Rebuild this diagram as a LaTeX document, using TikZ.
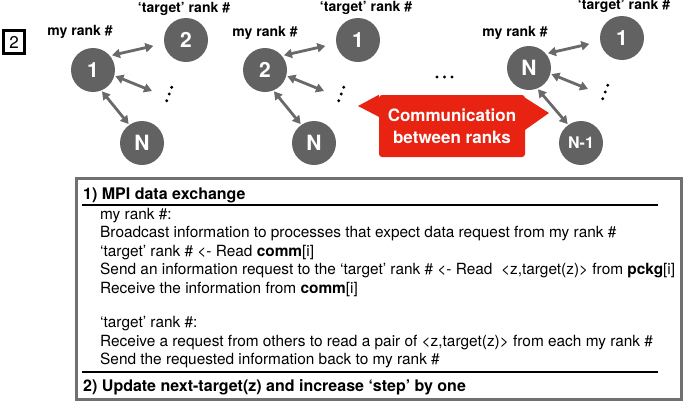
\documentclass[tikz,border=0pt]{standalone}
\usepackage{fontspec}
\setmainfont{TeX Gyre Heros}
\usetikzlibrary{arrows.meta}
\definecolor{nodegray}{RGB}{98,98,98}
\definecolor{arrgray}{RGB}{105,105,105}
\definecolor{boxgray}{RGB}{112,112,112}
\definecolor{callred}{RGB}{232,35,18}
\begin{document}
\begin{tikzpicture}[x=1pt,y=-1pt,
  rank/.style={circle, fill=nodegray, minimum size=44pt, inner sep=0pt, text=white, font=\fontsize{21}{21}\selectfont\bfseries},
  lbl/.style={font=\fontsize{14}{14}\selectfont\bfseries, inner sep=0pt},
  arr/.style={draw=arrgray, line width=2.8pt, {Triangle[length=8pt,width=9pt]}-{Triangle[length=8pt,width=9pt]}},
  dotmark/.style={circle, fill=black, minimum size=3.3pt, inner sep=0pt},
  body/.style={anchor=base west, inner sep=0pt, font=\fontsize{15.4}{17}\selectfont},
  head/.style={anchor=base west, inner sep=0pt, font=\fontsize{16}{17}\selectfont\bfseries},
  rulestyle/.style={line width=1.6pt, black}
]
\useasboundingbox (0,0) rectangle (685,402);

% stage marker
\node[draw, line width=3.5pt, minimum width=21pt, minimum height=23pt, inner sep=0pt, font=\fontsize{17}{17}\selectfont] (stage) at (14,42) {2};

% graph 1
\node[rank] (a1) at (93,70) {1};
\node[rank] (a2) at (186,40) {2};
\node[rank] (aN) at (142,143) {N};
\node[dotmark] (ad1) at (171.7,87.3) {};
\node[dotmark] (ad2) at (169.2,94) {};
\node[dotmark] (ad3) at (166.7,100.7) {};
\coordinate (ae) at (152,91);
\draw[arr, shorten <=2pt, shorten >=11pt] (a1.40) -- (a2.189);
\draw[arr, shorten <=1pt] (a1.-15) -- (ae);
\draw[arr, shorten <=1pt, shorten >=1pt] (a1.-68) -- (aN.125);
\node[lbl] (amy) at (80,32) {my rank \#};
\node[lbl] (atg) at (184,9) {`target' rank \#};

% graph 2
\node[rank] (b2) at (265,70) {2};
\node[rank] (b1) at (358,40) {1};
\node[rank] (bN) at (314,143) {N};
\node[dotmark] (bd1) at (343.7,87.3) {};
\node[dotmark] (bd2) at (341.2,94) {};
\node[dotmark] (bd3) at (338.7,100.7) {};
\coordinate (be) at (324,91);
\draw[arr, shorten <=2pt, shorten >=11pt] (b2.40) -- (b1.189);
\draw[arr, shorten <=1pt] (b2.-15) -- (be);
\draw[arr, shorten <=1pt, shorten >=1pt] (b2.-68) -- (bN.125);
\node[lbl] (bmy) at (265,33) {my rank \#};
\node[lbl] (btg) at (366,8) {`target' rank \#};

% middle dots
\node[dotmark] (m1) at (437,77) {};
\node[dotmark] (m2) at (444.5,77) {};
\node[dotmark] (m3) at (452,77) {};

% graph 3
\node[rank] (cN) at (529,68) {N};
\node[rank] (c1) at (622,38) {1};
\node[rank, font=\fontsize{16}{16}\selectfont\bfseries] (cM) at (581,143) {N-1};
\node[dotmark] (cd1) at (607.7,85.3) {};
\node[dotmark] (cd2) at (605.2,92) {};
\node[dotmark] (cd3) at (602.7,98.7) {};
\coordinate (ce) at (588,89);
\draw[arr, shorten <=2pt, shorten >=11pt] (cN.40) -- (c1.189);
\draw[arr, shorten <=1pt] (cN.-15) -- (ce);
\draw[arr, shorten <=1pt, shorten >=1pt] (cN.-68) -- (cM.125);
\node[lbl] (cmy) at (515,33) {my rank \#};
\node[lbl] (ctg) at (624,6) {`target' rank \#};

% callout
\node[fill=callred, rounded corners=3pt, minimum width=146pt, minimum height=62pt, inner sep=0pt,
      text=white, align=center, font=\fontsize{17}{22}\selectfont\bfseries] (call) at (452,126)
      {Communication\\between ranks};
\coordinate (ltip) at (358,106);
\coordinate (rtip) at (549,113);
\fill[callred] (call.north west) -- (ltip) -- ([yshift=-22pt]call.north west) -- cycle;
\fill[callred] ([yshift=-3pt]call.north east) -- (rtip) -- ([yshift=-35pt]call.north east) -- cycle;

% panel
\node[draw=boxgray, line width=3pt, minimum width=605pt, minimum height=221pt, inner sep=0pt] (panel) at (379,289) {};
\node[head] (h1) at (83,199.5) {1) MPI data exchange};
\draw[rulestyle] (82,205) -- (658,205);
\node[body] (l1) at (100,219) {my rank \#:};
\node[body] (l2) at (100,237.5) {Broadcast information to processes that expect data request from my rank \#};
\node[body] (l3) at (100,256) {`target' rank \# <- Read \textbf{comm}[i]};
\node[body] (l4) at (100,274.5) {Send an information request to the `target' rank \# <- Read\ \ <z,target(z)> from \textbf{pckg}[i]};
\node[body] (l5) at (100,293) {Receive the information from \textbf{comm}[i]};
\node[body] (l6) at (100,327) {`target' rank \#:};
\node[body] (l7) at (100,346) {Receive a request from others to read a pair of <z,target(z)> from each my rank \#};
\node[body] (l8) at (100,364.5) {Send the requested information back to my rank \#};
\draw[rulestyle] (82,372) -- (658,372);
\node[head] (h2) at (83,391.5) {2) Update next-target(z) and increase `step' by one};
\end{tikzpicture}
\end{document}
